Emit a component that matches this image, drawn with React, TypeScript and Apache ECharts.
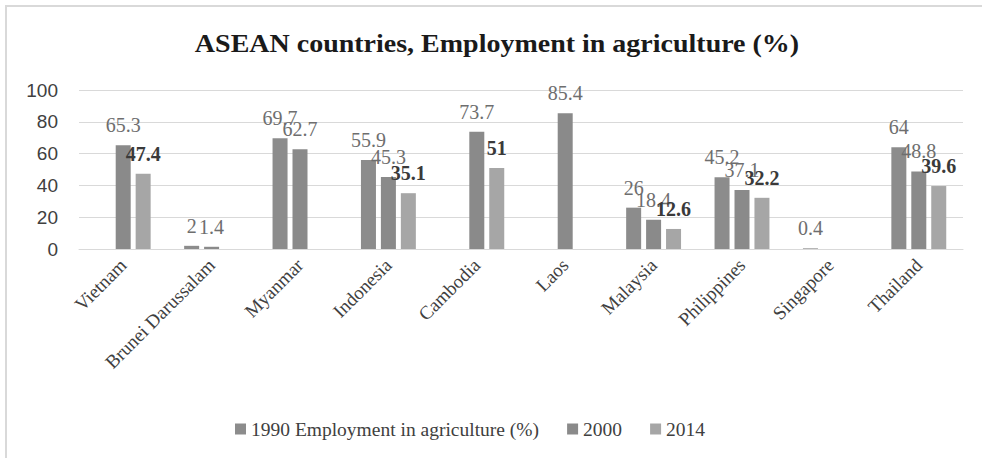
import React, { useEffect, useRef } from "react";
import * as echarts from "echarts";

const categories = [
  "Vietnam",
  "Brunei Darussalam",
  "Myanmar",
  "Indonesia",
  "Cambodia",
  "Laos",
  "Malaysia",
  "Philippines",
  "Singapore",
  "Thailand",
];
const seriesNames = ["1990 Employment in agriculture (%)", "2000", "2014"];
const values1990 = [null, 2, 69.7, 55.9, null, null, 26, 45.2, 0.4, 64];
const values2000 = [65.3, 1.4, 62.7, 45.3, 73.7, 85.4, 18.4, 37.1, null, 48.8];
const values2014 = [47.4, null, null, 35.1, 51, null, 12.6, 32.2, null, 39.6];
const yTicks = [0, 20, 40, 60, 80, 100];
const titleText = "ASEAN countries, Employment in agriculture (%)";

const SERIF = "'Liberation Serif', 'Times New Roman', serif";
const SANS = "'Liberation Sans', Arial, sans-serif";

export default function App() {
  const ref = useRef<HTMLDivElement>(null);
  useEffect(() => {
    if (!ref.current) return;
    const chart = echarts.init(ref.current, null, { renderer: "svg" });
    const colors = ["#8c8c8c", "#8a8a8a", "#a6a6a6"];
    const dataSets = [values1990, values2000, values2014];
    const series = dataSets.map((d, i) => ({
      name: seriesNames[i],
      type: "bar",
      data: d.map((v) => (v === null ? "-" : v)),
      barWidth: 15,
      barGap: "33%",
      itemStyle: { color: colors[i] },
      label: {
        show: true,
        position: "top",
        distance: 10,
        fontFamily: SERIF,
        fontSize: 20,
        fontWeight: i === 2 ? "bold" : "normal",
        color: i === 2 ? "#3a3a3a" : "#6e6e6e",
      },
    }));
    chart.setOption({
      animation: false,
      backgroundColor: "#ffffff",
      graphic: [
        {
          type: "rect",
          shape: { x: 6, y: 6, width: 1000, height: 500 },
          style: { fill: "none", stroke: "#d9d9d9", lineWidth: 2 },
          silent: true,
        },
        {
          type: "text",
          x: 497,
          y: 44,
          scaleX: 1.12,
          style: {
            text: titleText,
            fontFamily: SERIF,
            fontWeight: "bold",
            fontSize: 25,
            fill: "#1a1a1a",
            textAlign: "center",
            textVerticalAlign: "middle",
          },
        },
      ],
      legend: {
        left: 230,
        top: 414,
        itemWidth: 11,
        itemHeight: 11,
        itemGap: 28,
        icon: "rect",
        textStyle: { fontFamily: SERIF, fontSize: 19.5, color: "#404040" },
        data: seriesNames,
      },
      grid: { left: 79, right: 19, top: 90, bottom: 209 },
      xAxis: {
        type: "category",
        data: categories,
        axisTick: { show: false },
        axisLine: { lineStyle: { color: "#d9d9d9" } },
        axisLabel: {
          rotate: 45,
          interval: 0,
          margin: 13,
          fontFamily: SERIF,
          fontSize: 19,
          color: "#404040",
        },
      },
      yAxis: {
        type: "value",
        min: yTicks[0],
        max: yTicks[yTicks.length - 1],
        interval: yTicks[1] - yTicks[0],
        axisLine: { show: false },
        axisTick: { show: false },
        splitLine: { lineStyle: { color: "#d9d9d9", width: 1 } },
        axisLabel: {
          margin: 21,
          fontFamily: SANS,
          fontSize: 19,
          color: "#404040",
        },
      },
      series,
    });
    return () => chart.dispose();
  }, []);
  return (
    <div
      ref={ref}
      style={{ position: "fixed", left: 0, top: 0, width: 982, height: 458 }}
    />
  );
}
